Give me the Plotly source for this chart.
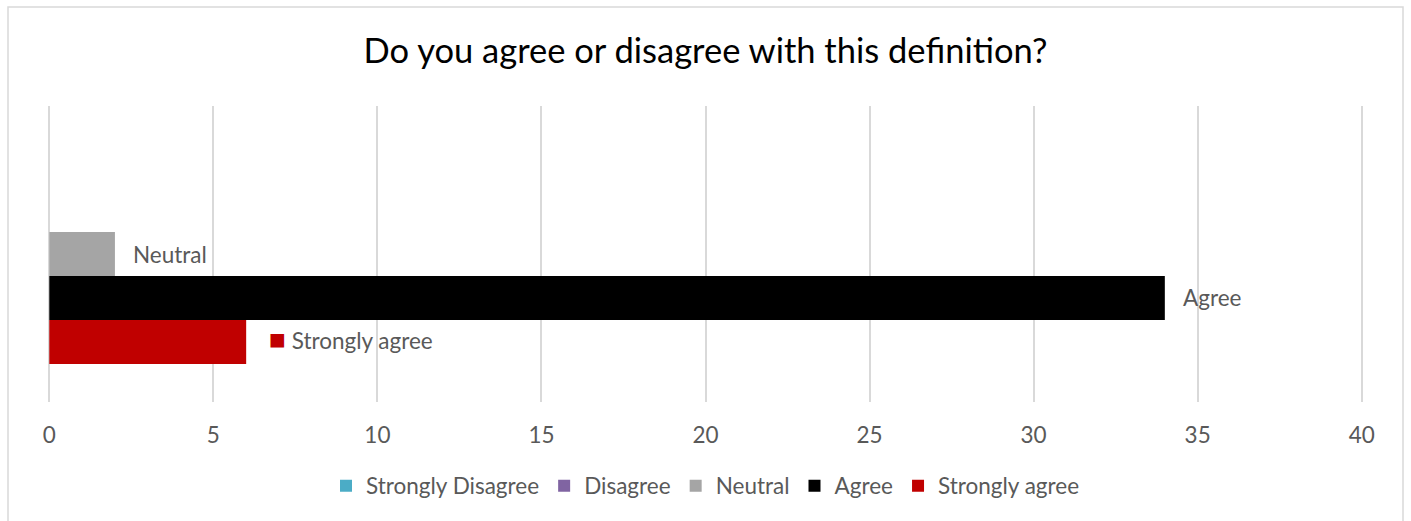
import plotly.graph_objects as go

series = ["Strongly Disagree", "Disagree", "Neutral", "Agree", "Strongly agree"]
values = [0, 0, 2, 34, 6]
colors = ["#4BACC6", "#8064A2", "#A5A5A5", "#000000", "#C00000"]
x_ticks = [0, 5, 10, 15, 20, 25, 30, 35, 40]
title = "Do you agree or disagree with this definition?"

W, H = 1411, 521
ml, mr, mt, mb = 48, 48, 106, 119
bargap = 0.257
FONT = "Lato, 'Open Sans', sans-serif"
TXT = "#595959"
FS = 22.5

fig = go.Figure()
for name, v, c in zip(series, values, colors):
    fig.add_trace(go.Bar(x=[v], y=[0], name=name, orientation="h",
                         marker=dict(color=c, line=dict(width=0)),
                         hoverinfo="x+name"))

n = len(series)
gw = 1 - bargap
bw = gw / n
for i, (name, v, c) in enumerate(zip(series, values, colors)):
    if v == 0:
        continue
    yc = -gw / 2 + (i + 0.5) * bw
    if i == n - 1:
        txt = f"<span style='color:{c};font-size:28px'>■</span> {name}"
        shift, yshift = 21, 4
    else:
        txt = name
        shift, yshift = 16, 0
    fig.add_annotation(x=v, y=yc, xref="x", yref="y", text=txt, showarrow=False,
                       xanchor="left", yanchor="middle", xshift=shift, yshift=yshift,
                       font=dict(family=FONT, size=FS, color=TXT))

pw = W - ml - mr
ph = H - mt - mb
fig.add_shape(type="rect", xref="paper", yref="paper",
              x0=(8 - ml) / pw, x1=(1403 - ml) / pw,
              y0=(H - mb - 560) / ph, y1=(H - mb - 7) / ph,
              line=dict(color="#D9D9D9", width=1.5), fillcolor="rgba(0,0,0,0)", layer="below")

fig.update_layout(
    width=W, height=H,
    margin=dict(l=ml, r=mr, t=mt, b=mb, autoexpand=False),
    paper_bgcolor="white", plot_bgcolor="white",
    barmode="group", bargap=bargap, bargroupgap=0,
    title=dict(text=title, x=0.5, xanchor="center", xref="paper",
               y=1 - 51 / H, yanchor="middle", yref="container",
               font=dict(family=FONT, size=34.5, color="#000000")),
    xaxis=dict(range=[-0.04, 40.04], tickvals=x_ticks, showgrid=True, gridcolor="#D9D9D9",
               gridwidth=2, zeroline=False, showline=False, ticks="",
               ticklabelstandoff=17,
               tickfont=dict(family=FONT, size=FS, color=TXT)),
    yaxis=dict(range=[0.5, -0.5], showticklabels=False, showgrid=False, zeroline=False,
               showline=False, ticks=""),
    legend=dict(orientation="h", x=0.5, xanchor="center", y=(H - mb - 486) / ph,
                yanchor="middle", font=dict(family=FONT, size=FS, color=TXT),
                itemwidth=30, tracegroupgap=0, traceorder="normal"),
    showlegend=True,
)

fig.write_html("out.html")
